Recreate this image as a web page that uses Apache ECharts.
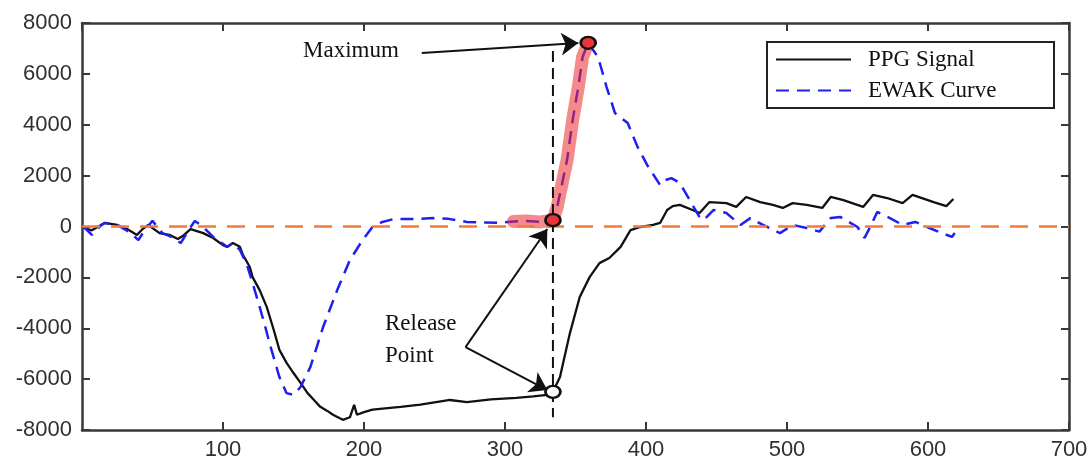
<!DOCTYPE html>
<html>
<head>
<meta charset="UTF-8">
<title>PPG Signal / EWAK Curve</title>
<script src="https://cdn.jsdelivr.net/npm/echarts@6/dist/echarts.min.js"></script>
<style>
	html, body {
		margin: 0;
		padding: 0;
		width: 100%;
		height: 100%;
		background: #fff;
		overflow: hidden;
	}
	#main {
		width: 1091px;
		height: 466px;
	}
</style>
</head>
<body>
<div id="main"></div>
<script>
// PPG signal (black solid)
var ppgX = [1, 7, 16, 25, 32, 39, 43, 47, 55, 62, 68, 72, 77, 86, 93, 100, 103, 107, 112, 114,
	119, 121, 126, 131, 136, 140, 145, 150, 155, 160, 165, 169, 174, 178, 185, 190, 193, 195, 200, 206,
	215, 226, 240, 261, 273, 290, 308, 320, 330, 334, 339, 346, 353, 360, 367, 374, 382, 389, 396, 405,
	410, 415, 419, 424, 433, 438, 445, 457, 464, 471, 481, 490, 497, 504, 514, 525, 531, 540, 554, 561,
	571, 582, 589, 604, 613, 618];
var ppgY = [-50, -150, 140, 60, -100, -330, -100, 60, -260, -330, -490, -350, -100, -260, -450, -730, -800, -650, -800, -1100,
	-1590, -1990, -2500, -3160, -4070, -4850, -5350, -5760, -6150, -6550, -6850, -7090, -7250, -7400, -7600, -7500, -7010, -7400, -7300, -7200,
	-7150, -7090, -7000, -6820, -6900, -6800, -6740, -6680, -6620, -6500, -5920, -4200, -2770, -1990, -1440, -1240, -800, -140, -20, 60,
	140, 650, 800, 850, 650, 530, 960, 920, 770, 1160, 960, 850, 730, 920, 850, 730, 1160, 1040, 770, 1240,
	1120, 920, 1240, 960, 800, 1080];

// EWAK curve (blue dashed)
var ewakX = [1, 7, 13, 16, 25, 33, 40, 45, 50, 57, 63, 70, 75, 80, 86, 93, 103, 107, 112, 117,
	121, 126, 130, 133, 140, 145, 150, 155, 162, 171, 181, 190, 199, 206, 213, 221, 235, 249, 260, 273,
	285, 296, 306, 315, 325, 334, 337, 344, 348, 352, 355, 359, 366, 372, 378, 387, 394, 401, 410, 414,
	418, 424, 431, 438, 441, 448, 457, 467, 474, 483, 495, 504, 514, 523, 531, 538, 550, 555, 559, 564,
	573, 582, 591, 601, 610, 617, 619];
var ewakY = [0, -330, 20, 140, 60, -200, -530, -100, 220, -260, -400, -650, -200, 220, -20, -410, -800, -650, -920, -1510,
	-2220, -3160, -3950, -4590, -5920, -6550, -6620, -6310, -5520, -3950, -2500, -1320, -530, -20, 180, 290, 290, 330, 300, 180,
	160, 140, 200, 220, 180, 250, 770, 2610, 4190, 5490, 6660, 7220, 6660, 5490, 4460, 4070, 3130, 2400, 1630, 1830,
	1900, 1710, 1040, 370, 260, 650, 530, 60, 330, 60, -260, 60, -60, -200, 330, 370, -20, -450, -20, 570,
	330, 60, 180, -60, -260, -410, -260];

// highlighted stretch of the EWAK curve, and the marked points
var highlightFrom = 306;
var highlightTo = 359;
var releaseX = 334;
var releasePpg = -6500;
var releaseEwak = 250;
var maxX = 359;
var maxEwak = 7220;

var xTickValues = [100, 200, 300, 400, 500, 600, 700];
var yTickValues = [-8000, -6000, -4000, -2000, 0, 2000, 4000, 6000, 8000];

function pairs(xs, ys) {
	var out = [];
	for (var i = 0; i < xs.length; i++) out.push([xs[i], ys[i]]);
	return out;
}

var ppgData = pairs(ppgX, ppgY);
var ewakData = pairs(ewakX, ewakY);
var highlightData = ewakData.filter(function (p) {
	return p[0] >= highlightFrom && p[0] <= highlightTo;
});

var chart = echarts.init(document.getElementById('main'));

var axisColor = '#383838';
var labelFont = { color: '#303030', fontSize: 22, fontFamily: 'Liberation Sans, Arial, sans-serif' };
var serif = 'Liberation Serif, Times New Roman, serif';

function xAx(pos, showLabel) {
	return {
		type: 'value', position: pos, min: 0, max: 700, interval: 100,
		axisLine: { onZero: false, lineStyle: { color: axisColor, width: 2.5 } },
		axisTick: { inside: true, length: 8, lineStyle: { color: axisColor, width: 2 } },
		axisLabel: Object.assign({ show: showLabel, margin: 9, showMinLabel: false,
			formatter: function (v) { return xTickValues.indexOf(v) >= 0 ? String(v) : ''; } }, labelFont),
		splitLine: { show: false }
	};
}
function yAx(pos, showLabel) {
	return {
		type: 'value', position: pos, min: -8000, max: 8000, interval: 2000,
		axisLine: { onZero: false, lineStyle: { color: axisColor, width: 2.5 } },
		axisTick: { inside: true, length: 8, lineStyle: { color: axisColor, width: 2 } },
		axisLabel: Object.assign({ show: showLabel, margin: 10,
			formatter: function (v) { return yTickValues.indexOf(v) >= 0 ? String(v) : ''; } }, labelFont),
		splitLine: { show: false }
	};
}

var arrowStyle = { color: '#111', width: 2, type: 'solid' };

var option = {
	animation: false,
	backgroundColor: '#fff',
	grid: { left: 82, right: 22, top: 23, bottom: 36 },
	xAxis: [xAx('bottom', true), xAx('top', false)],
	yAxis: [yAx('left', true), yAx('right', false)],
	legend: {
		data: ['PPG Signal', 'EWAK Curve'],
		orient: 'vertical',
		left: 767,
		top: 42,
		padding: [5, 6, 5, 8],
		itemGap: 6,
		itemWidth: 75,
		itemHeight: 14,
		itemStyle: { opacity: 0 },
		borderColor: '#222',
		borderWidth: 2,
		backgroundColor: '#fff',
		textStyle: { fontFamily: serif, fontSize: 23, color: '#111', lineHeight: 25,
			width: 180, padding: [0, 0, 0, 12] }
	},
	series: [
		{
			name: 'zero',
			type: 'line',
			data: [],
			z: 1,
			markLine: {
				silent: true,
				symbol: 'none',
				label: { show: false },
				lineStyle: { color: '#f47a3a', width: 2.5, type: [18, 11] },
				data: [{ yAxis: 0 }]
			}
		},
		{
			name: 'PPG Signal',
			type: 'line',
			data: ppgData,
			symbol: 'none',
			z: 3,
			lineStyle: { color: '#111', width: 2.3 },
			itemStyle: { color: '#111' }
		},
		{
			name: 'EWAK Curve',
			type: 'line',
			data: ewakData,
			symbol: 'none',
			z: 3,
			lineStyle: { color: '#1f1ff0', width: 2.5, type: [13, 8] },
			itemStyle: { color: '#1f1ff0' }
		},
		{
			name: 'highlight',
			type: 'line',
			data: highlightData,
			symbol: 'none',
			z: 4,
			lineStyle: { color: 'rgba(238, 40, 40, 0.55)', width: 13, cap: 'round', join: 'round' }
		},
		{
			name: 'release line',
			type: 'line',
			data: [[releaseX, 6900], [releaseX, -7500]],
			symbol: 'none',
			z: 5,
			lineStyle: { color: '#111', width: 2, type: [11, 6] },
			markLine: {
				silent: true,
				symbol: ['none', 'arrow'],
				symbolSize: 17,
				label: { show: false },
				lineStyle: arrowStyle,
				data: [
					[{ coord: [241, 6820] }, { coord: [352, 7210] }],
					[{ coord: [272, -4740] }, { coord: [330, -100] }],
					[{ coord: [272, -4740] }, { coord: [330, -6430] }]
				]
			}
		},
		{
			name: 'marks red',
			type: 'scatter',
			data: [[releaseX, releaseEwak], [maxX, maxEwak]],
			symbol: 'circle',
			symbolSize: [15, 12],
			z: 6,
			itemStyle: { color: '#e8343a', borderColor: '#111', borderWidth: 2.5, opacity: 1 }
		},
		{
			name: 'marks white',
			type: 'scatter',
			data: [[releaseX, releasePpg]],
			symbol: 'circle',
			symbolSize: [15, 12],
			z: 6,
			itemStyle: { color: '#fff', borderColor: '#111', borderWidth: 2.5, opacity: 1 }
		}
	],
	graphic: [
		{ type: 'text', left: 303, top: 39, z: 10,
			style: { text: 'Maximum', fontFamily: serif, fontSize: 23, fill: '#111' } },
		{ type: 'text', left: 385, top: 312, z: 10,
			style: { text: 'Release', fontFamily: serif, fontSize: 23, fill: '#111' } },
		{ type: 'text', left: 385, top: 344, z: 10,
			style: { text: 'Point', fontFamily: serif, fontSize: 23, fill: '#111' } }
	]
};

chart.setOption(option);
window.onresize = function () {
	chart.resize();
};
</script>
</body>
</html>
